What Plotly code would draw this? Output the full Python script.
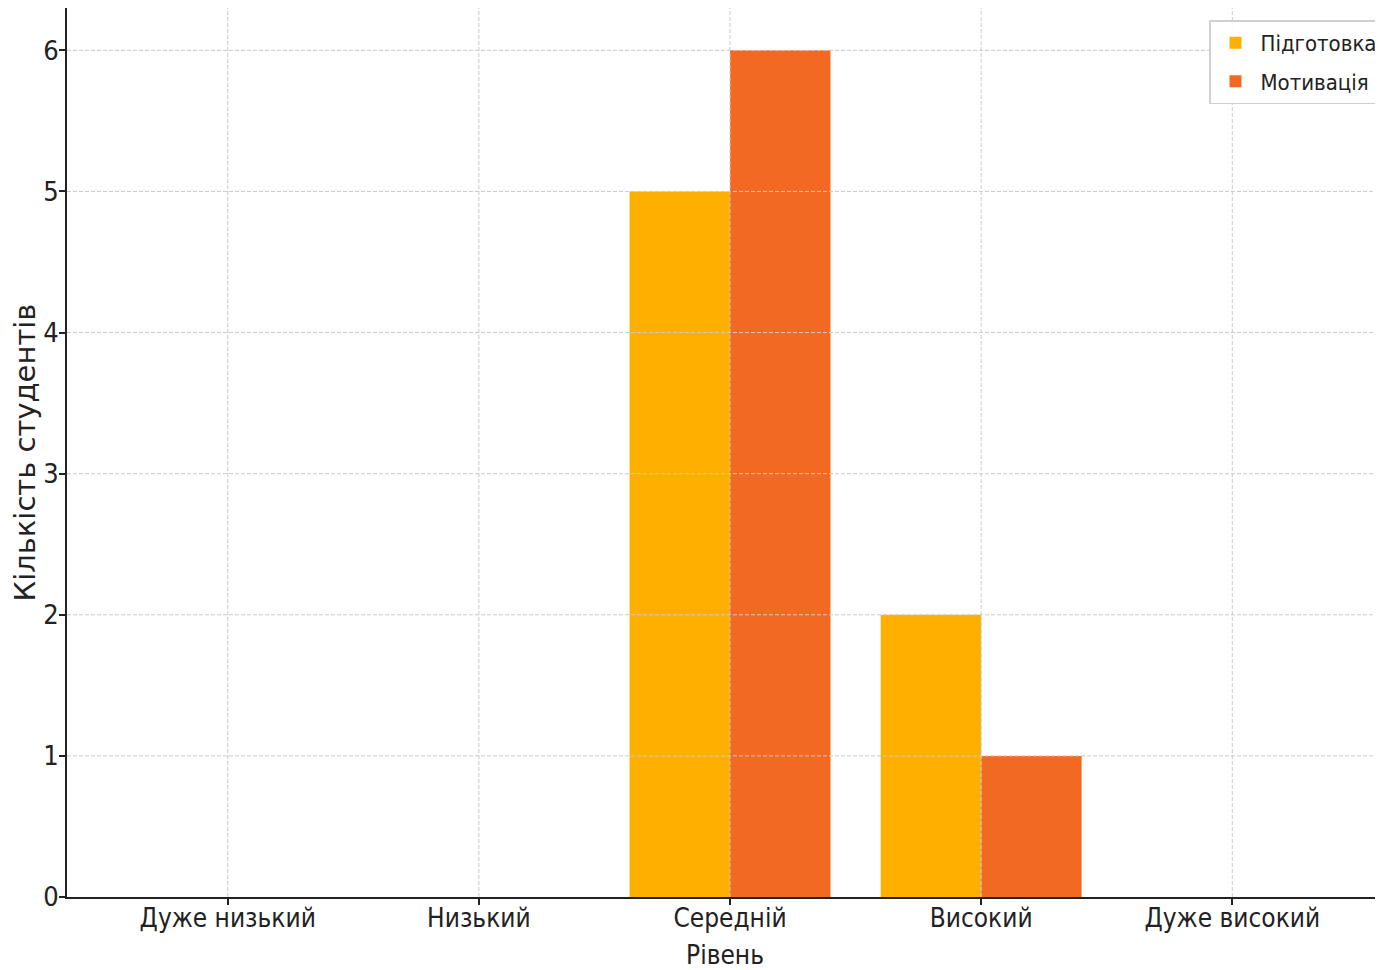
import plotly.graph_objects as go

categories = ["Дуже низький", "Низький", "Середній", "Високий", "Дуже високий"]
preparation = [0, 0, 5, 2, 0]
motivation = [0, 0, 6, 1, 0]
y_ticks = [0, 1, 2, 3, 4, 5, 6]

FONT = "DejaVu Sans Condensed, DejaVu Sans, sans-serif"

fig = go.Figure()
fig.add_bar(x=categories, y=preparation, name="Підготовка", marker_color="#FFAF00",
            marker_line_width=0, legendgroup="a")
fig.add_bar(x=categories, y=motivation, name="Мотивація", marker_color="#F26A22",
            marker_line_width=0, legendgroup="b")

grid_style = dict(color="#CACACA", width=1, dash="4px,2px")
for t in y_ticks[1:]:
    fig.add_shape(type="line", xref="paper", yref="y", x0=0, x1=1, y0=t, y1=t,
                  line=grid_style, layer="above")
for c in categories:
    fig.add_shape(type="line", xref="x", yref="paper", x0=c, x1=c, y0=0, y1=1,
                  line=grid_style, layer="above")

fig.update_layout(
    width=1375, height=962,
    margin=dict(l=59, r=0, t=0, b=73),
    paper_bgcolor="white", plot_bgcolor="white",
    barmode="group", bargap=0.2, bargroupgap=0,
    font=dict(family=FONT, size=26, color="#222222"),
    legend=dict(x=1, y=0.986, xanchor="right", yanchor="top",
                bordercolor="#D0D0D0", borderwidth=1.5, bgcolor="rgba(255,255,255,0.9)",
                itemwidth=40, tracegroupgap=7,
                font=dict(family=FONT, size=22, color="#222222")),
    showlegend=True,
)
fig.update_xaxes(
    range=[-0.64, 4.6], showgrid=False, showline=True, linecolor="#222222", linewidth=2,
    ticks="outside", ticklen=6, tickwidth=1.5, tickcolor="#222222", automargin=False,
    tickfont=dict(family=FONT, size=26), ticklabelstandoff=-9,
    title=dict(text="Рівень", font=dict(family=FONT, size=26), standoff=17),
)
fig.update_yaxes(
    range=[0, 6.3], tickvals=y_ticks, showgrid=False, zeroline=False,
    showline=True, linecolor="#222222", linewidth=2, automargin=False,
    ticks="outside", ticklen=6, tickwidth=1.5, tickcolor="#222222",
    tickfont=dict(family=FONT, size=27), ticklabelstandoff=-5,
    title=dict(text="Кількість студентів", font=dict(family="DejaVu Sans", size=29), standoff=11),
)

fig.write_html("out.html")
